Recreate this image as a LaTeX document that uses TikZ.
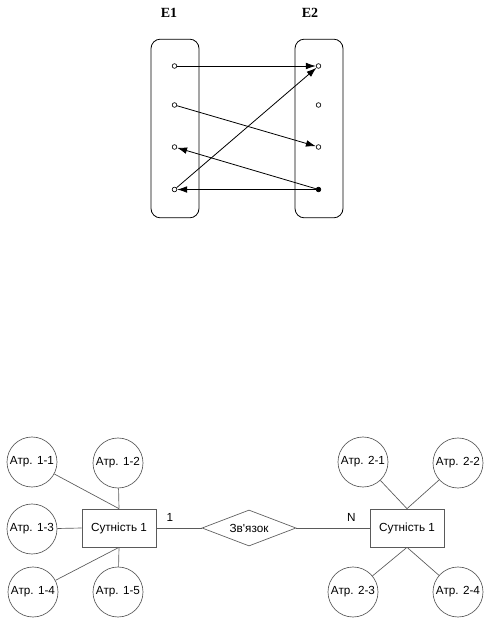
\documentclass[tikz,border=0pt]{standalone}
\usepackage{fontspec}
\setmainfont{Liberation Sans}
\newfontfamily\titlefont{Liberation Serif}
\usetikzlibrary{arrows.meta, shapes.geometric}
\definecolor{EdgeGrey}{HTML}{5A5A5A}
\begin{document}
\begin{tikzpicture}[x=0.75pt,y=-0.75pt,font=\fontsize{8.8}{10}\selectfont,setbox/.style={draw=black,rounded corners=7pt,line width=0.6pt,minimum width=36pt,minimum height=134pt,inner sep=0pt},setlabel/.style={font=\titlefont\bfseries\fontsize{10.5}{12}\selectfont},elem/.style={circle,draw=black,line width=0.5pt,minimum size=3.5pt,inner sep=0pt},maparrow/.style={-{Latex[length=7.5pt,width=5pt]},line width=0.6pt},attr/.style={circle,draw=EdgeGrey,line width=0.5pt,minimum size=37.5pt,inner sep=0pt},entity/.style={rectangle,draw=EdgeGrey,line width=0.5pt,minimum width=55.5pt,minimum height=28.5pt,inner sep=0pt},relation/.style={diamond,draw=EdgeGrey,line width=0.5pt,aspect=2.6,minimum width=70.5pt,minimum height=27pt,inner sep=0pt},link/.style={draw=EdgeGrey,line width=0.5pt}]
\useasboundingbox (0,0) rectangle (494,621);
% sets and their elements
\node[setlabel] (E1) at (169,13) {E1};
\node[setlabel] (E2) at (310,13) {E2};
\node[setbox] (S1) at (175,128.5) {};
\node[setbox] (S2) at (319,128.5) {};
\node[elem] (L1) at (174.5,66) {};
\node[elem] (L2) at (174.5,105) {};
\node[elem] (L3) at (174.5,147) {};
\node[elem] (L4) at (174.5,189.5) {};
\node[elem] (R1) at (318.5,66) {};
\node[elem] (R2) at (318.5,105) {};
\node[elem] (R3) at (318.5,147) {};
\node[elem,fill=black] (R4) at (318.5,189.5) {};
\draw[maparrow] (L1) -- (R1);
\draw[maparrow] (L2) -- (R3);
\draw[maparrow] (R4) -- (L3);
\draw[maparrow] (R4) -- (L4);
\draw[maparrow] (L4) -- (R1);
% ER diagram
\node[entity] (ent1) at (119,528) {Сутність 1};
\node[relation] (rel) at (249,528) {Зв\textquotesingle язок};
\node[entity] (ent2) at (407,528) {Сутність 1};
\node[attr] (a11) at (32,462) {Атр. 1-1};
\node[attr] (a12) at (118,463) {Атр. 1-2};
\node[attr] (a13) at (32,529) {Атр. 1-3};
\node[attr] (a14) at (33,592) {Атр. 1-4};
\node[attr] (a15) at (118,592) {Атр. 1-5};
\node[attr] (a21) at (363,462) {Атр. 2-1};
\node[attr] (a22) at (458,463) {Атр. 2-2};
\node[attr] (a23) at (353,592) {Атр. 2-3};
\node[attr] (a24) at (458,592) {Атр. 2-4};
\draw[link] (a11) -- (ent1.north);
\draw[link] (a12) -- (ent1.north);
\draw[link] (a13) -- (ent1.west);
\draw[link] (a14) -- (ent1.south);
\draw[link] (a15) -- (ent1.south);
\draw[link] (a21) -- (ent2.north);
\draw[link] (a22) -- (ent2.north);
\draw[link] (a23) -- (ent2.south);
\draw[link] (a24) -- (ent2.south);
\draw[link] (ent1.east) -- node[pos=0.3,above,yshift=1pt] {1} (rel.west);
\draw[link] (rel.east) -- node[pos=0.75,above,yshift=1pt] {N} (ent2.west);
\end{tikzpicture}
\end{document}
